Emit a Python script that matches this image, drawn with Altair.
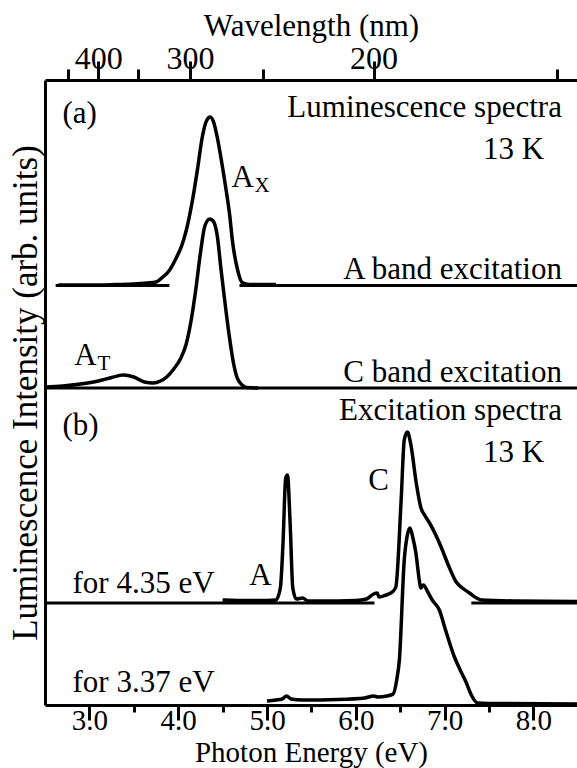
import altair as alt
import pandas as pd

# ---------------------------------------------------------------- data
# (a) luminescence spectra, photon energy (eV) vs intensity (arb. units)
lum_a_energy = [2.65, 3.0, 3.3, 3.5, 3.65, 3.75, 3.82, 3.90, 3.98, 4.04, 4.09, 4.16,
                4.22, 4.27, 4.32, 4.36, 4.40, 4.44, 4.49, 4.54, 4.58, 4.61, 4.67,
                4.72, 4.80, 4.90, 5.10]
lum_a_int = [0.05, 0.05, 0.1, 0.15, 0.25, 0.35, 0.8, 1.5, 2.8, 4.0, 5.5, 8.5,
             11.8, 14.8, 16.5, 16.85, 16.3, 14.8, 12.3, 9.5, 7.0, 4.5, 1.5,
             0.3, 0.1, 0.1, 0.1]

lum_c_energy = [2.5, 2.7, 2.9, 3.1, 3.25, 3.38, 3.5, 3.62, 3.72, 3.80, 3.87, 3.95,
                4.03, 4.09, 4.15, 4.20, 4.25, 4.30, 4.355, 4.40, 4.44, 4.48, 4.52,
                4.57, 4.62, 4.66, 4.72, 4.77, 4.90]
lum_c_int = [0.1, 0.2, 0.4, 0.7, 1.05, 1.3, 1.1, 0.6, 0.5, 0.7, 1.1, 1.9,
             3.0, 4.4, 7.0, 10.0, 13.5, 16.2, 16.9, 16.6, 15.2, 12.0, 9.0,
             5.5, 2.6, 1.1, 0.3, 0.05, 0.0]

# (b) excitation spectra
exc_435_energy = [4.50, 4.80, 5.00, 5.10, 5.15, 5.18, 5.21, 5.23, 5.26, 5.29, 5.33,
                  5.40, 5.46, 5.60, 6.00, 6.12, 6.20, 6.24, 6.26, 6.34, 6.41, 6.45,
                  6.51, 6.545, 6.58, 6.62, 6.68, 6.73, 6.78, 6.83, 6.90, 6.96, 7.05,
                  7.13, 7.20, 7.28, 7.36, 7.42, 7.80, 8.49]
exc_435_int = [0.3, 0.25, 0.25, 0.3, 1.5, 6.0, 12.5, 12.8, 8.0, 1.5, 0.4,
               0.5, 0.2, 0.2, 0.25, 0.4, 0.9, 1.0, 0.6, 0.8, 1.1, 1.6,
               10.3, 16.3, 17.1, 15.8, 12.0, 9.6, 8.7, 8.0, 6.8, 5.6, 3.6,
               2.1, 1.5, 1.0, 0.5, 0.3, 0.2, 0.15]

exc_337_energy = [5.00, 5.10, 5.17, 5.22, 5.27, 5.40, 5.80, 6.10, 6.20, 6.25, 6.35,
                  6.42, 6.46, 6.49, 6.545, 6.58, 6.61, 6.64, 6.676, 6.714, 6.73,
                  6.76, 6.81, 6.86, 6.94, 7.01, 7.11, 7.18, 7.24, 7.30, 7.37, 7.50,
                  8.49]
exc_337_int = [0.4, 0.5, 0.6, 0.9, 0.6, 0.5, 0.55, 0.7, 0.9, 0.8, 0.9,
               1.1, 2.5, 4.5, 14.5, 17.0, 17.7, 16.8, 15.2, 12.5, 11.7,
               12.0, 11.3, 10.5, 9.5, 7.5, 4.8, 3.4, 2.3, 1.0, 0.2, 0.15,
               0.1]

# axis ticks
energy_ticks = [3.0, 4.0, 5.0, 6.0, 7.0, 8.0]
energy_minor = [3.5, 4.5, 5.5, 6.5, 7.5]
wavelength_ticks = [400, 300, 200]
wavelength_minor = [450, 350, 250, 150]

HC = 1239.84  # eV * nm

# vertical offsets of each trace (arb. units)
OFF_A, OFF_C, OFF_435, OFF_337 = 41.95, 31.7, 10.2, 0.0

FONT = "'Liberation Serif', 'Times New Roman', 'DejaVu Serif', serif"
FS = 31
SUB = 21


def trace(name, energy, inten, off):
    return pd.DataFrame({"E": energy, "I": [v + off for v in inten], "s": name})


curves = pd.concat([
    trace("A band", lum_a_energy, lum_a_int, OFF_A),
    trace("C band", lum_c_energy, lum_c_int, OFF_C),
    trace("4.35 eV", exc_435_energy, exc_435_int, OFF_435),
    trace("3.37 eV", exc_337_energy, exc_337_int, OFF_337),
])

# zero lines of the stacked traces
zero_lines = pd.DataFrame({
    "E": [2.62, 4.69, 2.5, 2.5, 7.30],
    "E2": [3.90, 8.49, 8.49, 6.21, 8.49],
    "I": [OFF_A, OFF_A, OFF_C, OFF_435, OFF_435],
})

x_scale = alt.Scale(domain=[2.5, 8.49], nice=False, zero=False)
y_scale = alt.Scale(domain=[0, 62.5], nice=False, zero=False)

bottom_axis = alt.Axis(
    orient="bottom", values=energy_ticks, format=".1f", title="Photon Energy (eV)",
    grid=False, tickSize=15, tickWidth=3, tickColor="black", domainWidth=3,
    domainColor="black", labelFont=FONT, labelFontSize=29, labelColor="black",
    labelBaseline="alphabetic", labelPadding=9, labelFlush=False,
    titleFont=FONT, titleFontSize=29, titleFontWeight="normal", titleColor="black",
    titleBaseline="alphabetic", titleY=56,
)
bottom_minor = alt.Axis(
    orient="bottom", values=energy_minor, labels=False, domain=False, grid=False,
    tickSize=7, tickWidth=3, tickColor="black", title=None,
)
top_axis = alt.Axis(
    orient="top", values=[HC / w for w in wavelength_ticks],
    labelExpr="round(1239.84 / datum.value)", title="Wavelength (nm)",
    grid=False, tickSize=19, tickWidth=3, tickColor="black", domainWidth=3,
    domainColor="black", labelFont=FONT, labelFontSize=32, labelColor="black",
    labelBaseline="alphabetic", labelPadding=-7, labelFlush=False,
    titleFont=FONT, titleFontSize=FS, titleFontWeight="normal", titleColor="black",
    titleBaseline="alphabetic", titleY=-45,
)
top_minor = alt.Axis(
    orient="top", values=[HC / w for w in wavelength_minor], labels=False,
    domain=False, grid=False, tickSize=11, tickWidth=3, tickColor="black", title=None,
)
left_axis = alt.Axis(
    orient="left", labels=False, ticks=False, grid=False, domainWidth=3,
    domainColor="black", title="Luminescence Intensity (arb. units)",
    titleFont=FONT, titleFontSize=35, titleFontWeight="normal", titleColor="black",
    titlePadding=2,
)


def y_enc():
    return alt.Y("I:Q", scale=y_scale, axis=left_axis)


lines = alt.Chart(curves).mark_line(
    color="black", strokeWidth=3.5, interpolate="monotone", strokeJoin="round"
).encode(
    x=alt.X("E:Q", scale=x_scale, axis=bottom_axis),
    y=y_enc(),
    detail="s:N",
)

zeros = alt.Chart(zero_lines).mark_rule(color="black", strokeWidth=3).encode(
    x=alt.X("E:Q", scale=x_scale, axis=bottom_minor),
    x2="E2:Q",
    y=y_enc(),
)

# invisible carriers for the wavelength axis
top_major_layer = alt.Chart(zero_lines).mark_point(opacity=0).encode(
    x=alt.X("E:Q", scale=x_scale, axis=top_axis),
    y=y_enc(),
)
top_minor_layer = alt.Chart(zero_lines).mark_point(opacity=0).encode(
    x=alt.X("E:Q", scale=x_scale, axis=top_minor),
    y=y_enc(),
)

# text annotations (position in eV / arb. units)
notes = pd.DataFrame([
    {"E": 2.696, "I": 58.2, "t": "(a)", "a": "left", "f": FS},
    {"E": 8.32, "I": 58.8, "t": "Luminescence spectra", "a": "right", "f": FS},
    {"E": 8.12, "I": 54.6, "t": "13 K", "a": "right", "f": FS},
    {"E": 4.60, "I": 51.8, "t": "A", "a": "left", "f": FS},
    {"E": 4.86, "I": 51.3, "t": "X", "a": "left", "f": SUB},
    {"E": 8.32, "I": 42.6, "t": "A band excitation", "a": "right", "f": FS},
    {"E": 2.83, "I": 34.0, "t": "A", "a": "left", "f": FS},
    {"E": 3.09, "I": 33.5, "t": "T", "a": "left", "f": SUB},
    {"E": 8.32, "I": 32.3, "t": "C band excitation", "a": "right", "f": FS},
    {"E": 2.696, "I": 27.0, "t": "(b)", "a": "left", "f": FS},
    {"E": 8.32, "I": 28.5, "t": "Excitation spectra", "a": "right", "f": FS},
    {"E": 8.12, "I": 24.3, "t": "13 K", "a": "right", "f": FS},
    {"E": 6.14, "I": 21.5, "t": "C", "a": "left", "f": FS},
    {"E": 4.80, "I": 12.0, "t": "A", "a": "left", "f": FS},
    {"E": 2.81, "I": 11.2, "t": "for 4.35 eV", "a": "left", "f": FS},
    {"E": 2.81, "I": 1.3, "t": "for 3.37 eV", "a": "left", "f": FS},
])


def text_layer(align):
    return alt.Chart(notes).transform_filter(
        alt.datum.a == align
    ).mark_text(font=FONT, color="black", baseline="alphabetic", align=align).encode(
        x=alt.X("E:Q", scale=x_scale, axis=None),
        y=y_enc(),
        text="t:N",
        size=alt.Size("f:Q", scale=None, legend=None),
    )


chart = alt.layer(
    zeros, lines, top_major_layer, top_minor_layer,
    text_layer("left"), text_layer("right"),
).resolve_axis(x="independent").properties(
    width=532, height=625, autosize="none",
    padding={"left": 45, "top": 80, "right": 0, "bottom": 63},
    background="white",
).configure_view(stroke=None)

chart.save("out.html", embed_options={"renderer": "svg", "actions": False})
